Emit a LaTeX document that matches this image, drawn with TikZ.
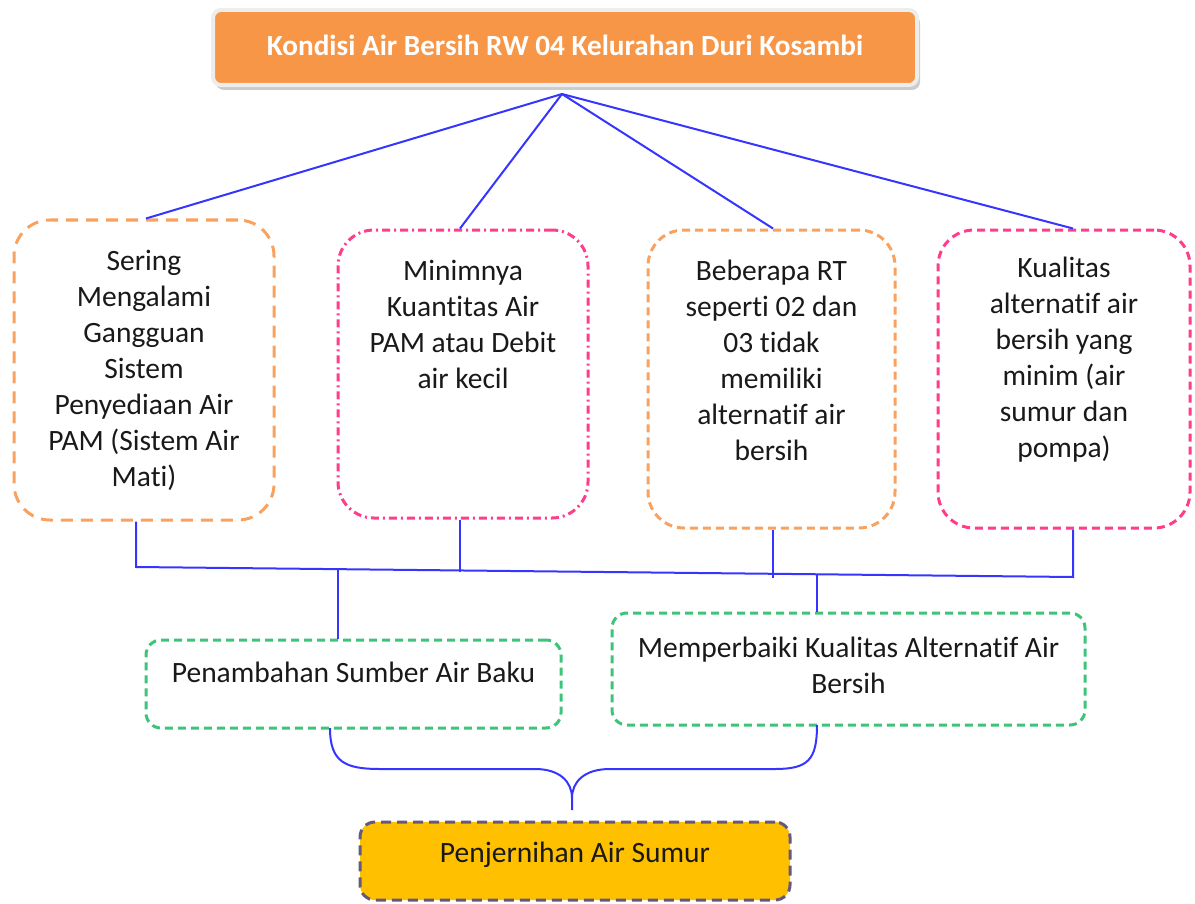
\documentclass[tikz,border=0pt]{standalone}
\usepackage{fontspec}
\setmainfont{Carlito}[Ligatures=NoCommon]
\usetikzlibrary{shadows}

\definecolor{oranye}{HTML}{F79646}
\definecolor{oranyemuda}{HTML}{F9A15E}
\definecolor{merahmuda}{HTML}{FF3D8B}
\definecolor{hijau}{HTML}{3DC479}
\definecolor{ungu}{HTML}{65587F}
\definecolor{kuning}{HTML}{FFC000}
\definecolor{biru}{HTML}{3535FF}

\tikzset{
  kotak/.style={rectangle, rounded corners=18pt, line width=1.5pt, inner sep=0pt},
  garis/.style={biru, line width=1pt},
  isi/.style={align=center, text=black!90, font=\fontsize{14.75}{18}\selectfont}
}

\begin{document}
\begin{tikzpicture}[x=0.5pt, y=-0.5pt]
    \useasboundingbox (0,0) rectangle (1195,904);

                % judul
                \node[rectangle, rounded corners=4pt, fill=oranye, draw=black!7, line width=2pt,
                      drop shadow={shadow xshift=1.5pt, shadow yshift=-2.5pt, fill=black!40},
                      minimum width=352pt, minimum height=37.5pt] (judul) at (565,47.5) {};
                \node[text=white, font=\fontsize{14.6}{18}\selectfont\bfseries] (judult) at (565,45) {Kondisi Air Bersih RW 04 Kelurahan Duri Kosambi};
                \coordinate (hub) at (562,94);

                % masalah
                \node[kotak, draw=oranyemuda, dash pattern=on 6pt off 4pt, minimum width=130pt, minimum height=150pt] (b1) at (144,370) {};
                \node[kotak, draw=merahmuda, dash pattern=on 4pt off 2pt on 1pt off 2pt, minimum width=125pt, minimum height=144pt] (b2) at (463,374) {};
                \node[kotak, draw=oranyemuda, dash pattern=on 4pt off 2.5pt, minimum width=123.5pt, minimum height=149pt] (b3) at (771.5,379) {};
                \node[kotak, draw=merahmuda, dash pattern=on 4pt off 2.5pt, minimum width=126pt, minimum height=149pt] (b4) at (1064,379) {};

                \node[isi] (b1t) at (144,370) {Sering\\Mengalami\\Gangguan\\Sistem\\Penyediaan Air\\PAM (Sistem Air\\Mati)};
                \node[isi] (b2t) at (463,324) {Minimnya\\Kuantitas Air\\PAM atau Debit\\air kecil};
                \node[isi] (b3t) at (771.5,360) {Beberapa RT\\seperti 02 dan\\03 tidak\\memiliki\\alternatif air\\bersih};
                \node[isi] (b4t) at (1064,360) {Kualitas\\alternatif air\\bersih yang\\minim (air\\sumur dan\\pompa)};

                \draw[garis] (hub) -- ([xshift=1pt]b1.north);
                \draw[garis] (hub) -- ([xshift=-1.5pt]b2.north);
                \draw[garis] (hub) -- ([xshift=0.75pt]b3.north);
                \draw[garis] (hub) -- ([xshift=4.5pt]b4.north);

                % penghubung bawah
                \coordinate (busL) at (136,567);
                \coordinate (busR) at (1073,577);
                \coordinate (tA) at (338,569);
                \coordinate (tB) at (817,575);
                \draw[garis] ([xshift=-4pt]b1.south) -- (busL) -- (busR) -- ([xshift=4.5pt]b4.south);
                \draw[garis] ([xshift=-1.5pt]b2.south) -- ++(0,52);
                \draw[garis] ([xshift=0.75pt]b3.south) -- ++(0,48);

                % solusi
                \node[kotak, rounded corners=7.5pt, draw=hijau, dash pattern=on 4pt off 2.5pt, minimum width=207.5pt, minimum height=44pt] (gA) at (353.5,684) {};
                \node[kotak, rounded corners=7.5pt, draw=hijau, dash pattern=on 4pt off 2.5pt, minimum width=236.5pt, minimum height=56pt] (gB) at (848.5,669) {};
                \node[isi] (gAt) at (353.5,672) {Penambahan Sumber Air Baku};
                \node[isi] (gBt) at (848.5,665.5) {Memperbaiki Kualitas Alternatif Air\\Bersih};

                \draw[garis] (tA) -- (tA |- gA.north);
                \draw[garis] (tB) -- (tB |- gB.north);

                % kurung kurawal
                \coordinate (kA) at (330,728);
                \coordinate (kB) at (817,725);
                \coordinate (ujung) at (572,810);
                \draw[garis] (kA) .. controls (330,762) and (345,769) .. (380,769) -- (535,769)
                    .. controls (560,769) and (572,782) .. (572,798) -- (ujung)
                    (572,798) .. controls (572,782) and (584,769) .. (610,769) -- (775,769)
                    .. controls (808,769) and (817,760) .. (kB);

                % hasil
                \node[kotak, rounded corners=7.5pt, fill=kuning, draw=ungu, dash pattern=on 5pt off 3pt, minimum width=215pt, minimum height=39pt] (hasil) at (575,861) {};
                \node[isi] (hasilt) at (575,855) {Penjernihan Air Sumur};

\end{tikzpicture}
\end{document}
